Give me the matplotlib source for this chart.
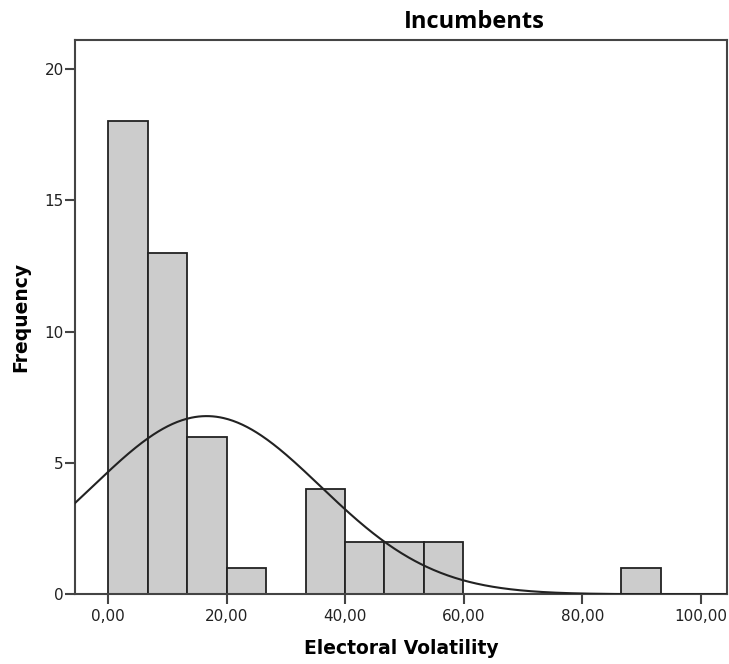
import numpy as np
import matplotlib.pyplot as plt

# histogram bins (start, width) and counts
bin_start = 0.0
bin_width = 6.66
counts = [18, 13, 6, 1, 0, 4, 2, 2, 2, 0, 0, 0, 0, 1]

# fitted normal curve parameters
mean_val = 16.6
sd_val = 19.2

x_ticks = [0, 20, 40, 60, 80, 100]
x_tick_labels = ["0,00", "20,00", "40,00", "60,00", "80,00", "100,00"]
y_ticks = [0, 5, 10, 15, 20]

fig = plt.figure(figsize=(7.29, 6.64), dpi=100)
ax = fig.add_axes([0.103, 0.105, 0.894, 0.835])

edges = bin_start + bin_width * np.arange(len(counts))
ax.bar(edges, counts, width=bin_width, align='edge',
       color='#cccccc', edgecolor='#222222', linewidth=1.3, zorder=2)

n_total = sum(counts)
xs = np.linspace(-10, 110, 600)
ys = n_total * bin_width / (sd_val * np.sqrt(2 * np.pi)) * np.exp(-0.5 * ((xs - mean_val) / sd_val) ** 2)
ax.plot(xs, ys, color='#222222', linewidth=1.5, zorder=3)

ax.set_xlim(-5.6, 104.4)
ax.set_ylim(0, 21.1)
ax.set_xticks(x_ticks)
ax.set_xticklabels(x_tick_labels)
ax.set_yticks(y_ticks)

for s in ax.spines.values():
    s.set_color('#444444')
    s.set_linewidth(1.5)
ax.tick_params(axis='both', direction='out', length=7, width=1.5, color='#444444',
               labelsize=11, labelcolor='#222222')
ax.tick_params(axis='y', pad=1)
for lab in ax.get_xticklabels() + ax.get_yticklabels():
    lab.set_family('DejaVu Sans')

ax.set_xlabel('Electoral Volatility', fontsize=13.5, fontweight='bold',
              family='DejaVu Sans', va='center')
ax.set_ylabel('Frequency', fontsize=13.5, fontweight='bold',
              family='DejaVu Sans', va='center')
ax.xaxis.set_label_coords(0.5, -0.0975)
ax.yaxis.set_label_coords(-0.083, 0.5)
fig.text(0.65, 0.967, 'Incumbents', ha='center', va='center',
         fontsize=17, fontweight='bold', family='Open Sans')

plt.savefig("out.png", dpi=100)
